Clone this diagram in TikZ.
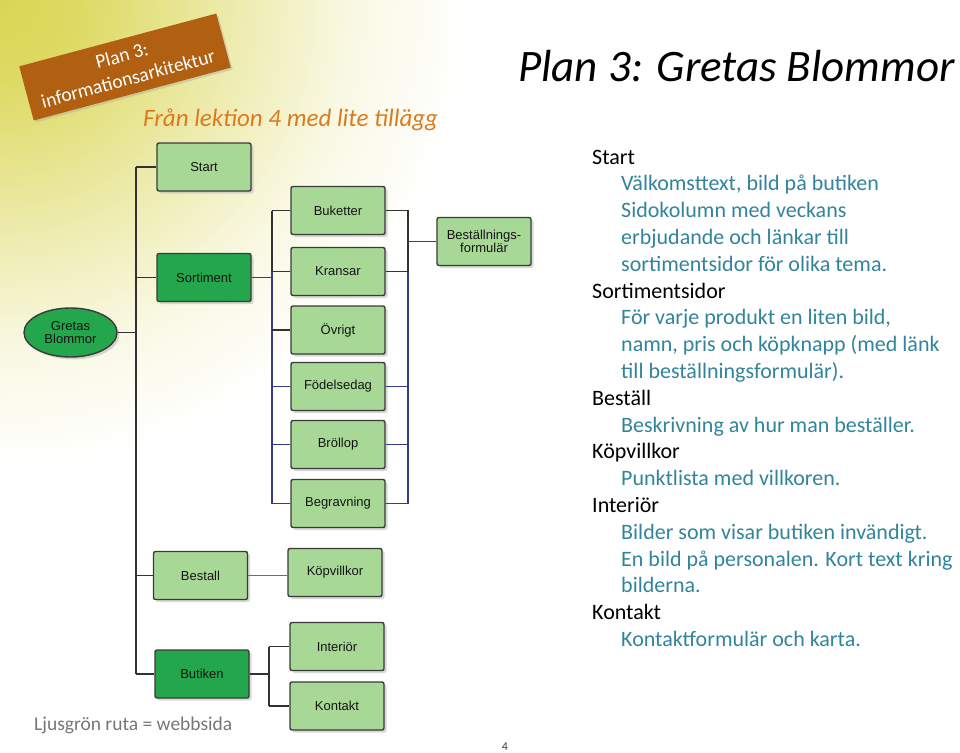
\documentclass[tikz,border=0pt]{standalone}
\usepackage{fontspec}
\setmainfont{Carlito}
\newfontfamily\boxfont{Liberation Sans}
\usetikzlibrary{shapes.geometric,shadows}
\definecolor{bgyel}{RGB}{218,214,84}
\definecolor{lgreen}{RGB}{168,216,150}
\definecolor{dgreen}{RGB}{36,166,76}
\definecolor{boxline}{RGB}{58,58,58}
\definecolor{boxtext}{RGB}{20,20,20}
\definecolor{dkline}{RGB}{50,50,50}
\definecolor{nvline}{RGB}{58,58,140}
\definecolor{grline}{RGB}{110,110,110}
\definecolor{bannerbrown}{RGB}{176,96,16}
\definecolor{suborange}{RGB}{222,122,28}
\definecolor{tealtxt}{RGB}{49,132,155}
\definecolor{footgray}{RGB}{118,118,118}
\pgfdeclareradialshading{bgfade}{\pgfpoint{0bp}{0bp}}{color(0bp)=(bgyel);color(4bp)=(bgyel!92!white);color(12bp)=(bgyel!50!white);color(19bp)=(bgyel!15!white);color(25bp)=(white);color(50bp)=(white)}
\tikzset{
  pagebox/.style={draw=boxline, line width=1.4pt, rounded corners=2pt, fill=lgreen,
    minimum width=94pt, minimum height=48pt, inner sep=1pt, text=boxtext, align=center,
    font=\boxfont\fontsize{13}{13.5}\selectfont,
    drop shadow={fill=black!30, opacity=0.5, shadow xshift=2.5pt, shadow yshift=-2.5pt}},
  sitebox/.style={pagebox, fill=dgreen},
  rootell/.style={ellipse, draw=boxline, line width=1.4pt, fill=dgreen, minimum width=93pt,
    minimum height=49pt, inner sep=0pt, text=boxtext, align=center,
    font=\boxfont\fontsize{13}{13.5}\selectfont,
    drop shadow={fill=black!30, opacity=0.5, shadow xshift=2.5pt, shadow yshift=-2.5pt}},
  dk/.style={draw=dkline, line width=1.2pt},
  nv/.style={draw=nvline, line width=1.1pt},
  gr/.style={draw=grline, line width=1.2pt},
  headtxt/.style={anchor=base west, inner sep=0pt, font=\fontsize{22}{26.8}\selectfont, text=black},
  itemtxt/.style={anchor=base west, inner sep=0pt, font=\fontsize{22}{26.8}\selectfont, text=tealtxt},
  bannerbox/.style={fill=bannerbrown, text=white, align=center, minimum width=204pt,
    minimum height=56pt, inner sep=0pt, font=\fontsize{19.5}{24}\selectfont,
    drop shadow={fill=black!35, opacity=0.4, shadow xshift=2pt, shadow yshift=-2pt}}
}
\begin{document}
\begin{tikzpicture}[x=1pt,y=-1pt]
\useasboundingbox (0,0) rectangle (960,752);
\begin{scope}
  \clip (0,0) rectangle (960,752);
  \shade[shading=bgfade] (0,0) circle (470pt);
\end{scope}

% banner and titles
\node[bannerbox, rotate=15] (banner) at (125,67) {Plan 3:\\informationsarkitektur};
\node[anchor=base west, inner sep=0pt, font=\itshape\fontsize{45}{54}\selectfont] (title) at (518,81.5) {Plan 3: Gretas Blommor};
\node[anchor=base west, inner sep=0pt, font=\itshape\fontsize{25}{30}\selectfont, text=suborange] (subtitle) at (143,126) {Från lektion 4 med lite tillägg};

% diagram nodes
\node[rootell] (gretas) at (70.5,332.5) {Gretas\\Blommor};
\node[pagebox] (start) at (204,167) {Start};
\node[sitebox] (sortiment) at (204,277.5) {Sortiment};
\node[pagebox] (bestall) at (200.5,575.5) {Bestall};
\node[sitebox] (butiken) at (202,674) {Butiken};
\node[pagebox] (buketter) at (338,210.5) {Buketter};
\node[pagebox] (kransar) at (338,271.5) {Kransar};
\node[pagebox] (ovrigt) at (338,330) {Övrigt};
\node[pagebox] (fodelsedag) at (338,386.5) {Födelsedag};
\node[pagebox] (brollop) at (338,444.5) {Bröllop};
\node[pagebox] (begravning) at (338,503.5) {Begravning};
\node[pagebox] (bestform) at (484,241.5) {Beställnings-\\formulär};
\node[pagebox] (kopvillkor) at (335,572.5) {Köpvillkor};
\node[pagebox] (interior) at (337,646.5) {Interiör};
\node[pagebox] (kontakt) at (337,706) {Kontakt};

% trunk coordinates
\coordinate (tA) at (136,0);
\coordinate (tB) at (272,0);
\coordinate (tC) at (408,0);
\coordinate (tD) at (269,0);

% main trunk
\draw[dk] (gretas.east) -- (gretas.east -| tA);
\draw[dk] (start.west -| tA) -- (butiken.west -| tA);
\draw[dk] (start.west) -- (start.west -| tA);
\draw[dk] (sortiment.west) -- (sortiment.west -| tA);
\draw[dk] (bestall.west) -- (bestall.west -| tA);
\draw[dk] (butiken.west) -- (butiken.west -| tA);

% sortiment branch
\draw[nv] (sortiment.east) -- (sortiment.east -| tB);
\draw[dk] (buketter.west -| tB) -- (kransar.west -| tB);
\draw[nv] (kransar.west -| tB) -- (begravning.west -| tB);
\draw[dk] (buketter.west) -- (buketter.west -| tB);
\draw[dk] (kransar.west) -- (kransar.west -| tB);
\draw[dk] (ovrigt.west) -- (ovrigt.west -| tB);
\draw[nv] (fodelsedag.west) -- (fodelsedag.west -| tB);
\draw[nv] (brollop.west) -- (brollop.west -| tB);
\draw[nv] (begravning.west) -- (begravning.west -| tB);

% right trunk to formular
\draw[dk] (buketter.east) -- (buketter.east -| tC) -- (kransar.east -| tC);
\draw[nv] (kransar.east -| tC) -- (begravning.east -| tC);
\draw[dk] (kransar.east) -- (kransar.east -| tC);
\draw[nv] (fodelsedag.east) -- (fodelsedag.east -| tC);
\draw[nv] (brollop.east) -- (brollop.east -| tC);
\draw[nv] (begravning.east) -- (begravning.east -| tC);
\draw[nv] (bestform.west -| tC) -- (bestform.west);

% bestall and butiken
\draw[gr] (bestall.east) -- (bestall.east -| kopvillkor.west);
\draw[dk] (butiken.east) -- (butiken.east -| tD);
\draw[dk] (interior.west -| tD) -- (kontakt.west -| tD);
\draw[dk] (interior.west -| tD) -- (interior.west);
\draw[dk] (kontakt.west -| tD) -- (kontakt.west);

% right text
\node[headtxt] (r0) at (592,164.0) {Start};
\node[itemtxt] (r1) at (621,190.8) {Välkomsttext, bild på butiken};
\node[itemtxt] (r2) at (621,217.6) {Sidokolumn med veckans};
\node[itemtxt] (r3) at (621,244.4) {erbjudande och länkar till};
\node[itemtxt] (r4) at (621,271.2) {sortimentsidor för olika tema.};
\node[headtxt] (r5) at (592,298.0) {Sortimentsidor};
\node[itemtxt] (r6) at (621,324.8) {För varje produkt en liten bild,};
\node[itemtxt] (r7) at (621,351.6) {namn, pris och köpknapp (med länk};
\node[itemtxt] (r8) at (621,378.4) {till beställningsformulär).};
\node[headtxt] (r9) at (592,405.2) {Beställ};
\node[itemtxt] (r10) at (621,432.0) {Beskrivning av hur man beställer.};
\node[headtxt] (r11) at (592,458.8) {Köpvillkor};
\node[itemtxt] (r12) at (621,485.6) {Punktlista med villkoren.};
\node[headtxt] (r13) at (592,512.4) {Interiör};
\node[itemtxt] (r14) at (621,539.2) {Bilder som visar butiken invändigt.};
\node[itemtxt] (r15) at (621,566.0) {En bild på personalen. Kort text kring};
\node[itemtxt] (r16) at (621,592.8) {bilderna.};
\node[headtxt] (r17) at (592,619.6) {Kontakt};
\node[itemtxt] (r18) at (621,646.4) {Kontaktformulär och karta.};

% footer
\node[anchor=base west, inner sep=0pt, font=\fontsize{19.5}{23}\selectfont, text=footgray] (legend) at (34,730) {Ljusgrön ruta = webbsida};
\node[anchor=base, inner sep=0pt, font=\fontsize{12}{14}\selectfont, text=black!75] (pagenum) at (505,750) {4};
\end{tikzpicture}
\end{document}
